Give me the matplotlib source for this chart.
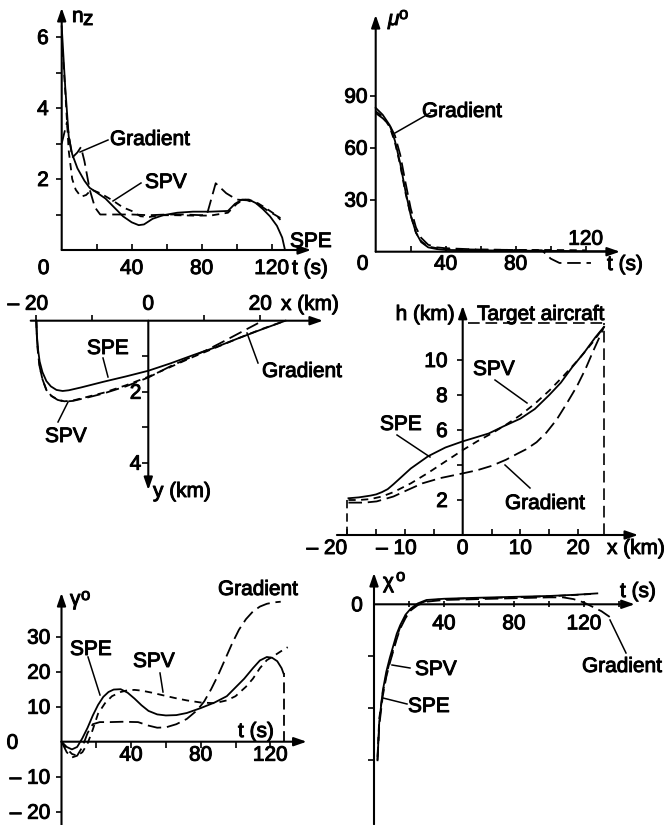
import matplotlib
matplotlib.use('Agg')
import matplotlib.pyplot as plt
from matplotlib.lines import Line2D
import matplotlib.patheffects as pe

# ---------------- data ----------------
# Panel 1: n_z vs t
nz_t_spe = [0, 2, 4, 6, 9, 13, 16, 20, 25, 30, 35, 40, 44, 47, 52, 58, 66, 75, 85, 95, 99, 103, 107, 111, 115, 119, 123, 126, 127.6]
nz_spe = [6.3, 4.6, 3.2, 2.7, 2.3, 1.95, 1.75, 1.62, 1.45, 1.2, 0.95, 0.78, 0.7, 0.72, 0.88, 0.98, 1.05, 1.08, 1.08, 1.1, 1.3, 1.42, 1.42, 1.32, 1.15, 0.95, 0.68, 0.35, 0.0]
nz_t_spv = [0, 2, 4, 6, 8, 11, 14, 17, 22, 29, 35, 40, 45, 50, 56, 65, 75, 85, 95, 100, 104, 110, 116, 122, 125]
nz_spv = [6.0, 4.5, 2.8, 2.0, 1.7, 1.5, 1.55, 1.7, 1.6, 1.4, 1.2, 1.1, 0.95, 0.93, 0.98, 0.98, 0.97, 0.97, 1.05, 1.3, 1.42, 1.38, 1.2, 1.0, 0.85]
nz_t_grad = [0, 3, 6, 9, 11, 13, 16, 19, 22, 30, 40, 50, 60, 70, 80, 83, 88, 94, 100, 106, 112, 118, 125]
nz_grad = [3.0, 3.6, 2.6, 2.75, 2.9, 2.5, 1.7, 1.2, 1.0, 1.0, 1.0, 0.98, 1.0, 1.0, 0.98, 1.0, 1.88, 1.6, 1.42, 1.4, 1.3, 1.1, 0.9]

# Panel 2: mu vs t
mu_t_spe = [0, 4, 8, 11, 14, 17, 20, 23, 26, 30, 35, 40, 60, 80, 100, 120, 136]
mu_spe = [83, 79, 73, 64, 51, 35, 21, 11, 5.5, 2.5, 1.5, 1, 0.8, 0.6, 0.5, 0.3, 0.3]
mu_t_spv = [0, 4, 8, 11, 14, 17, 20, 23, 26, 30, 35, 40, 60, 80, 100, 120]
mu_spv = [81, 78, 72, 63, 50, 34, 21, 11, 6, 3, 2, 1.5, 1.2, 1.0, 1.0, 0.8]
mu_t_grad = [0, 4, 8, 11, 14, 17, 20, 23, 26, 30, 35, 40, 60, 80, 95, 100, 105, 123]
mu_grad = [80, 77, 73, 67, 56, 40, 25, 14, 8, 4, 2.5, 2, 1.2, 1.0, 0.8, -4, -6.5, -6.5]

# Panel 3: horizontal plane y vs x (km)
xy_x_spe = [-20, -19.9, -19.7, -19.4, -18.9, -18.2, -17.4, -16.4, -15.3, -14.2, -12, -8, -4, 0, 4, 8, 12, 16, 20, 24.5]
xy_y_spe = [0, 0.4, 0.8, 1.15, 1.45, 1.7, 1.85, 1.95, 1.98, 1.96, 1.88, 1.72, 1.57, 1.41, 1.2, 0.97, 0.75, 0.5, 0.26, 0]
xy_x_spv = [-20, -19.9, -19.7, -19.4, -18.9, -18.2, -17.3, -16.2, -15, -13.5, -11, -8, -4, 0, 4, 8, 12, 16, 20, 24.5]
xy_y_spv = [0, 0.45, 0.9, 1.3, 1.65, 1.95, 2.12, 2.22, 2.27, 2.25, 2.15, 2.03, 1.82, 1.58, 1.3, 1.02, 0.76, 0.5, 0.25, 0]
xy_x_grad = [-20, -19.9, -19.7, -19.4, -18.9, -18.2, -17.3, -16.2, -15, -13.5, -11, -8, -4, 0, 4, 8, 10.4, 13, 16, 19.6]
xy_y_grad = [0, 0.45, 0.9, 1.3, 1.65, 1.95, 2.12, 2.23, 2.28, 2.26, 2.17, 2.05, 1.85, 1.6, 1.28, 1.0, 0.83, 0.62, 0.37, 0.07]

# Panel 4: vertical plane h vs x (km)
hx_x_spe = [-19.8, -18, -16, -15, -14, -13, -12, -11, -9, -6, -3, 0, 2, 4.5, 7, 10, 12.5, 15, 17, 19, 21, 23, 24.5]
hx_h_spe = [2.1, 2.15, 2.25, 2.32, 2.45, 2.62, 2.9, 3.2, 3.8, 4.5, 5.0, 5.35, 5.55, 5.8, 6.2, 6.65, 7.2, 8.0, 8.7, 9.6, 10.4, 11.3, 11.9]
hx_x_spv = [-19.8, -18, -16, -14, -12, -9, -6, -3, 0, 2.5, 5, 7.5, 10, 12.5, 15, 17.5, 20, 22.5, 24.5]
hx_h_spv = [2.0, 2.0, 2.05, 2.2, 2.45, 2.95, 3.55, 4.2, 4.85, 5.35, 5.8, 6.3, 6.85, 7.5, 8.25, 9.1, 10.0, 11.0, 11.9]
hx_x_grad = [-19.8, -17, -14.9, -12, -9.7, -7, -3.9, 0, 2.5, 5, 7.5, 9.5, 11, 12.8, 14.5, 16.3, 18, 19.8, 21.3, 22.6, 23.7, 24.5]
hx_h_grad = [1.85, 1.85, 1.92, 2.2, 2.55, 2.95, 3.25, 3.52, 3.7, 3.95, 4.3, 4.65, 4.9, 5.3, 5.85, 6.6, 7.5, 8.5, 9.5, 10.5, 11.3, 11.9]
start_x, start_h = -20, 2.1
target_x, target_h = 24.5, 12.1

# Panel 5: gamma vs t
ga_t_spe = [0, 3, 6, 9, 12, 15, 18, 21, 24, 27, 30, 34, 38, 42, 46, 50, 55, 60, 66, 72, 80, 88, 95, 100, 105, 110, 114, 118, 121, 124, 126.5, 127.6]
ga_spe = [0, -1.5, -2.2, -1.5, 1.0, 4.0, 7.5, 10.5, 12.8, 14.2, 14.9, 15.0, 14.0, 12.3, 10.4, 8.8, 7.8, 7.5, 7.6, 8.2, 9.6, 11.2, 13.0, 15.5, 18.0, 21.0, 23.2, 24.2, 24.0, 23.0, 21.0, 19.5]
ga_t_spv = [0, 3, 6, 9, 12, 15, 18, 21, 25, 29, 34, 38, 42, 46, 52, 58, 65, 72, 80, 88, 95, 100, 106, 110, 114, 118, 122, 126, 130]
ga_spv = [0, -2, -3.5, -4, -3, -0.5, 3.5, 8.0, 11.0, 13.0, 14.2, 14.7, 14.8, 14.6, 14.0, 13.3, 12.5, 11.8, 11.2, 11.0, 11.8, 13.0, 15.7, 18.0, 21.0, 23.3, 24.5, 25.8, 27.0]
ga_t_grad = [0, 3, 6, 9, 12, 15, 18, 22, 28, 35, 44, 50, 55, 60, 66, 72, 78, 82, 86, 90, 94, 98, 102, 106, 110, 114, 118, 122, 126]
ga_grad = [0, -3, -4.5, -4, -1.5, 2.5, 5.0, 5.6, 5.6, 5.7, 5.6, 4.6, 4.0, 4.1, 5.0, 6.5, 9.0, 11.5, 15.0, 19.0, 23.5, 28.0, 32.0, 35.0, 37.2, 38.6, 39.4, 39.8, 40.0]

# Panel 6: chi vs t
ch_t_spe = [2, 3, 5, 7, 9, 11, 13, 15, 18, 21, 25, 30, 40, 60, 80, 100, 115, 127.6]
ch_spe = [-90, -68, -50, -39, -31, -24, -17, -12, -6, -2.5, 0.5, 2.5, 3.2, 3.8, 4.3, 4.8, 5.5, 6.3]
ch_t_spv = [2, 3, 5, 7, 9, 11, 13, 15, 18, 21, 25, 30, 40, 60, 80, 100, 115, 125]
ch_spv = [-88, -66, -51, -41, -33, -26, -19, -13, -7, -3, 0, 2, 3, 3.5, 4, 4.6, 5.4, 6]
ch_t_grad = [2, 3, 5, 7, 9, 11, 13, 15, 18, 21, 25, 30, 40, 60, 80, 100, 108, 114, 120, 125, 130, 135]
ch_grad = [-90, -70, -53, -42, -34, -27, -20, -14, -8, -3.5, -0.5, 1.5, 2.5, 3, 3.5, 4, 4, 3, 1, -1.5, -4, -7.5]

# tick values / labels
nz_xticks = [20, 40, 60, 80, 100, 120]; nz_xlabels = ['40', '80', '120']; nz_xlabvals = [40, 80, 120]
nz_yticks = [1, 2, 3, 4, 5, 6]; nz_ylabvals = [2, 4, 6]
mu_xticks = [20, 40, 60, 80, 100, 120]; mu_xlabvals = [40, 80]
mu_yticks = [30, 60, 90]
xy_xticks = [-20, -10, 10, 20]
xy_yticks = [1, 2, 3, 4]; xy_ylabvals = [2, 4]
hx_xticks = [-20, -15, -10, -5, 5, 10, 15, 20]
hx_xlabvals = [-20, -10, 0, 10, 20]
hx_yticks = [2, 4, 6, 8, 10]; hx_ylabvals = [2, 6, 8, 10]
ga_xticks = [20, 40, 60, 80, 100, 120]; ga_xlabvals = [40, 80, 120]
ga_yticks = [-20, -10, 10, 20, 30]; ga_ylabvals = [-20, -10, 10, 20, 30]
ch_xticks = [20, 40, 60, 80, 100, 120, 140]; ch_xlabvals = [40, 80, 120]
ch_yticks = [-30, -60, -90]

# ---------------- figure ----------------
W, H = 665, 825
plt.rcParams['font.family'] = ['Liberation Sans', 'DejaVu Sans']
fig = plt.figure(figsize=(W / 100, H / 100), dpi=100)
FS = 15
K = 'black'
LW = 1.3
ST_SPE = '-'
ST_SPV = (0, (4, 3))
ST_GRAD = (0, (7.5, 3.2))
THICK = [pe.withStroke(linewidth=0.7, foreground=K)]


def make_panel(box, x0, sx, y0, sy):
    l, t, r, b = box
    ax = fig.add_axes([l / W, 1 - b / H, (r - l) / W, (b - t) / H])
    ax.set_xlim((l - x0) / sx, (r - x0) / sx)
    ax.set_ylim((y0 - b) / sy, (y0 - t) / sy)
    ax.patch.set_visible(False)
    for s in ax.spines.values():
        s.set_visible(False)
    ax.spines['bottom'].set_position(('data', 0))
    ax.spines['left'].set_position(('data', 0))
    ax.tick_params(labelbottom=False, labelleft=False, length=4.5, width=1.2, color=K)
    return ax


def axis_arrow(ax, start, end):
    ax.annotate('', xy=end, xytext=start, xycoords='data',
                arrowprops=dict(arrowstyle='-|>,head_length=0.75,head_width=0.26',
                                color=K, lw=1.5, shrinkA=0, shrinkB=0),
                annotation_clip=False)


def ticklab(ax, val, label, axis, dx, dy, ha='center'):
    xy = (val, 0) if axis == 'x' else (0, val)
    ax.annotate(label, xy=xy, xytext=(dx, dy), textcoords='offset pixels',
                ha=ha, va='baseline', fontsize=FS, color=K, annotation_clip=False,
                path_effects=THICK)


def ftext(px, py, s, ha='left', size=FS, style='normal'):
    fig.text(px / W, 1 - py / H, s, ha=ha, va='baseline', fontsize=size, color=K,
             style=style, path_effects=THICK)


def pointer(x1, y1, x2, y2):
    fig.add_artist(Line2D([x1 / W, x2 / W], [1 - y1 / H, 1 - y2 / H], color=K, lw=1.1,
                          transform=fig.transFigure))


def curves(ax, series):
    for xs, ys, st in series:
        ax.plot(xs, ys, color=K, lw=LW, linestyle=st, clip_on=False)


def minus(v):
    return ('\u2013 ' + str(abs(v))) if v < 0 else str(v)


# ---- Panel 1 : n_z ----
ax1 = make_panel((0, 0, 330, 280), 61.7, 1.75, 250, 35.5)
axis_arrow(ax1, (0, 0), (142.5, 0))
axis_arrow(ax1, (0, 0), (0, 6.82))
ax1.set_xticks(nz_xticks); ax1.set_yticks(nz_yticks)
ax1.tick_params(axis='x', direction='in'); ax1.tick_params(axis='y', direction='out')
curves(ax1, [(nz_t_grad, nz_grad, ST_GRAD), (nz_t_spv, nz_spv, ST_SPV), (nz_t_spe, nz_spe, ST_SPE)])
for v, lab in zip(nz_xlabvals, nz_xlabels):
    ticklab(ax1, v, lab, 'x', 0, -24)
for v in nz_ylabvals:
    ticklab(ax1, v, str(v), 'y', -13, -7, ha='right')
ticklab(ax1, 0, '0', 'x', -18, -24)
ftext(292, 274, 't (s)')
ftext(72, 22, 'n'); ftext(83, 25, 'z')
ftext(110, 145, 'Gradient'); pointer(108, 140, 80, 152)
ftext(145, 188, 'SPV'); pointer(141, 183, 113, 201)
ftext(290, 247, 'SPE')

# ---- Panel 2 : mu ----
ax2 = make_panel((330, 0, 665, 280), 375.7, 1.75, 251.7, 1.733)
axis_arrow(ax2, (0, 0), (139.6, 0))
axis_arrow(ax2, (0, 0), (0, 136.6))
ax2.set_xticks(mu_xticks); ax2.set_yticks(mu_yticks)
ax2.tick_params(axis='x', direction='in'); ax2.tick_params(axis='y', direction='out')
curves(ax2, [(mu_t_grad, mu_grad, ST_GRAD), (mu_t_spv, mu_spv, ST_SPV), (mu_t_spe, mu_spe, ST_SPE)])
for v in mu_xlabvals:
    ticklab(ax2, v, str(v), 'x', 0, -18)
ticklab(ax2, 120, '120', 'x', 0, 7)
ticklab(ax2, 0, '0', 'x', -13, -18)
for v in mu_yticks:
    ticklab(ax2, v, str(v), 'y', -8, -7, ha='right')
ftext(607, 270, 't (s)')
ftext(388, 25, '\u03bc', style='italic'); ftext(399, 19, 'o', size=12)
ftext(422, 117, 'Gradient'); pointer(430, 113, 395, 133)

# ---- Panel 3 : x-y plane ----
ax3 = make_panel((0, 280, 340, 500), 148.3, 5.6, 320.7, -35.5)
axis_arrow(ax3, (-21, 0), (31.2, 0))
axis_arrow(ax3, (0, 0), (0, 4.77))
ax3.set_xticks(xy_xticks); ax3.set_yticks(xy_yticks)
ax3.tick_params(axis='x', direction='in'); ax3.tick_params(axis='y', direction='out')
curves(ax3, [(xy_x_grad, xy_y_grad, ST_GRAD), (xy_x_spv, xy_y_spv, ST_SPV), (xy_x_spe, xy_y_spe, ST_SPE)])
ticklab(ax3, -20, minus(-20), 'x', 12, 11, ha='right')
ticklab(ax3, 0, '0', 'x', 0, 11)
ticklab(ax3, 20, '20', 'x', 0, 11)
ftext(281, 310, 'x (km)')
for v in xy_ylabvals:
    ticklab(ax3, v, str(v), 'y', -7, -7, ha='right')
ftext(153, 497, 'y (km)')
ftext(87, 354, 'SPE'); pointer(103, 358, 108, 377)
ftext(45, 442, 'SPV'); pointer(58, 422, 68, 402)
ftext(262, 377, 'Gradient'); pointer(258, 363, 247, 333)

# ---- Panel 4 : vertical plane ----
ax4 = make_panel((330, 280, 665, 590), 462.7, 5.77, 535, 17.5)
axis_arrow(ax4, (-21.8, 0), (30.4, 0))
axis_arrow(ax4, (0, 0), (0, 13.1))
ax4.set_xticks(hx_xticks); ax4.set_yticks(hx_yticks)
ax4.tick_params(axis='x', direction='in'); ax4.tick_params(axis='y', direction='out')
ax4.plot([start_x, start_x], [0, start_h], color=K, lw=1.2, linestyle=(0, (5, 3)))
ax4.plot([1, target_x], [target_h, target_h], color=K, lw=1.2, linestyle=(0, (7, 3.5)))
ax4.plot([target_x, target_x], [0, target_h], color=K, lw=1.2, linestyle=(0, (7, 3.5)))
curves(ax4, [(hx_x_grad, hx_h_grad, ST_GRAD), (hx_x_spv, hx_h_spv, ST_SPV), (hx_x_spe, hx_h_spe, ST_SPE)])
for v in hx_xlabvals:
    if v < 0:
        ticklab(ax4, v, minus(v), 'x', 12 if v == -10 else 0, -19, ha='right')
    else:
        ticklab(ax4, v, str(v), 'x', 0, -19)
ftext(607, 554, 'x (km)')
for v in hx_ylabvals:
    ticklab(ax4, v, str(v), 'y', -15, -7, ha='right')
ftext(455, 320, 'h (km)', ha='right')
ftext(477, 320, 'Target aircraft')
ftext(473, 375, 'SPV'); pointer(495, 380, 527, 403)
ftext(380, 430, 'SPE'); pointer(397, 435, 430, 457)
ftext(505, 509, 'Gradient'); pointer(530, 488, 505, 465)

# ---- Panel 5 : gamma ----
ax5 = make_panel((0, 560, 330, 825), 61.5, 1.74, 741.7, 3.5)
axis_arrow(ax5, (0, 0), (140.9, 0))
axis_arrow(ax5, (0, -24), (0, 42.5))
ax5.set_xticks(ga_xticks); ax5.set_yticks(ga_yticks)
ax5.tick_params(axis='x', direction='out'); ax5.tick_params(axis='y', direction='out')
curves(ax5, [(ga_t_grad, ga_grad, ST_GRAD), (ga_t_spv, ga_spv, ST_SPV), (ga_t_spe, ga_spe, ST_SPE)])
ax5.plot([ga_t_spe[-1], ga_t_spe[-1]], [0, ga_spe[-1]], color=K, lw=LW, linestyle=(0, (6, 3)))
for v in ga_xlabvals:
    ticklab(ax5, v, str(v), 'x', 0, -19)
for v in ga_ylabvals:
    ticklab(ax5, v, minus(v), 'y', -11, -7, ha='right')
ticklab(ax5, 0, '0', 'y', -49, -7, ha='center')
ftext(238, 737, 't (s)')
ftext(70, 605, '\u03b3'); ftext(81, 600, 'o', size=12)
ftext(218, 595, 'Gradient')
ftext(70, 655, 'SPE'); pointer(88, 657, 100, 695)
ftext(133, 667, 'SPV'); pointer(160, 673, 163, 692)

# ---- Panel 6 : chi ----
ax6 = make_panel((330, 560, 665, 825), 374, 1.75, 604.3, 1.733)
axis_arrow(ax6, (0, 0), (149, 0))
axis_arrow(ax6, (0, -127), (0, 18.1))
ax6.set_xticks(ch_xticks); ax6.set_yticks(ch_yticks)
ax6.tick_params(axis='x', direction='inout'); ax6.tick_params(axis='y', direction='out')
curves(ax6, [(ch_t_grad, ch_grad, ST_GRAD), (ch_t_spv, ch_spv, ST_SPV), (ch_t_spe, ch_spe, ST_SPE)])
for v in ch_xlabvals:
    ticklab(ax6, v, str(v), 'x', 0, -25)
ticklab(ax6, 0, '0', 'y', -11, -7, ha='right')
ftext(620, 597, 't (s)')
ftext(383, 588, '\u03c7'); ftext(396, 581, 'o', size=12)
ftext(415, 675, 'SPV'); pointer(410, 668, 392, 665)
ftext(408, 712, 'SPE'); pointer(407, 704, 383, 698)
ftext(582, 672, 'Gradient'); pointer(626, 653, 610, 620)

fig.savefig('out.png', dpi=100)
